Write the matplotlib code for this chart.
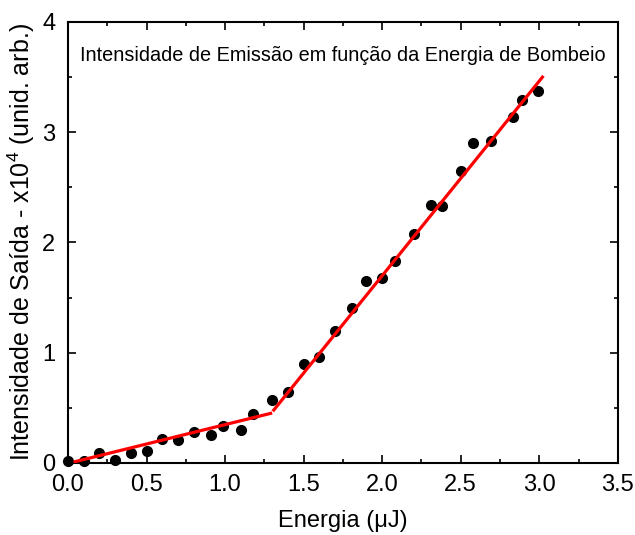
import numpy as np
import matplotlib
matplotlib.use('Agg')
import matplotlib.pyplot as plt
from matplotlib.ticker import MultipleLocator, FormatStrFormatter

plt.rcParams['font.family'] = ['Liberation Sans', 'DejaVu Sans']
plt.rcParams['mathtext.default'] = 'regular'

# measured points
energia = [0.0, 0.1, 0.2, 0.3, 0.4, 0.5, 0.6, 0.7, 0.8, 0.91, 0.99, 1.10, 1.18,
           1.30, 1.40, 1.50, 1.60, 1.70, 1.81, 1.90, 2.00, 2.08, 2.20, 2.31, 2.38,
           2.50, 2.58, 2.69, 2.83, 2.89, 2.99]
intensidade = [0.02, 0.02, 0.09, 0.03, 0.094, 0.11, 0.22, 0.21, 0.28, 0.25, 0.34, 0.30, 0.44,
               0.57, 0.64, 0.90, 0.96, 1.20, 1.41, 1.65, 1.68, 1.83, 2.08, 2.34, 2.33,
               2.65, 2.90, 2.92, 3.14, 3.29, 3.37]

# linear fits (end points)
fit1_x = [0.045, 1.29]
fit1_y = [0.012, 0.45]
fit2_x = [1.31, 3.02]
fit2_y = [0.48, 3.50]

fig = plt.figure(figsize=(6.35, 5.35), dpi=100)
ax = fig.add_axes([0.107, 0.1346, 0.866, 0.8243])

ax.plot(energia, intensidade, 'o', color='black', markersize=7, zorder=3, clip_on=False)
ax.plot(fit1_x, fit1_y, color='red', linewidth=2.3, zorder=4)
ax.plot(fit2_x, fit2_y, color='red', linewidth=2.3, zorder=4)

ax.set_xlim(0, 3.5)
ax.set_ylim(0, 4)
ax.xaxis.set_major_locator(MultipleLocator(0.5))
ax.xaxis.set_minor_locator(MultipleLocator(0.25))
ax.yaxis.set_major_locator(MultipleLocator(1))
ax.yaxis.set_minor_locator(MultipleLocator(0.5))
ax.xaxis.set_major_formatter(FormatStrFormatter('%.1f'))
ax.yaxis.set_major_formatter(FormatStrFormatter('%d'))

ax.tick_params(which='both', direction='in', top=True, right=True, width=1.2, labelsize=17)
ax.tick_params(which='major', length=6)
ax.tick_params(which='minor', length=3)
ax.tick_params(axis='x', which='major', pad=8)
ax.tick_params(axis='y', which='major', pad=9)
for s in ax.spines.values():
    s.set_linewidth(1.5)

ax.set_xlabel('Energia (\u03bcJ)', fontsize=17, labelpad=10)
ax.set_ylabel('Intensidade de Saída - x10$^4$ (unid. arb.)', fontsize=18, labelpad=4)
ax.text(0.5, 0.925, 'Intensidade de Emissão em função da Energia de Bombeio',
        transform=ax.transAxes, ha='center', va='center', fontsize=14.3)

fig.savefig('out.png', dpi=100)
